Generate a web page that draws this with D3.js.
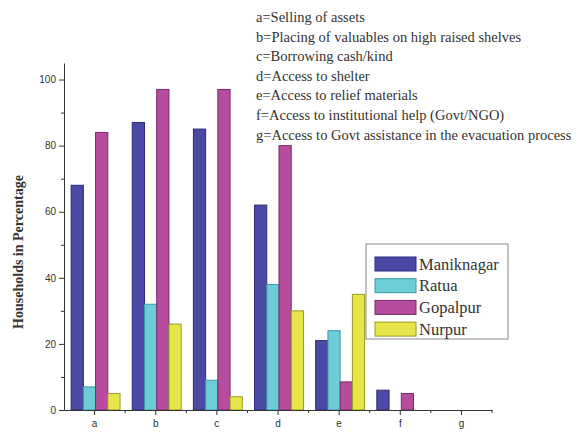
<!DOCTYPE html>
<html><head><meta charset="utf-8">
<script src="https://cdn.jsdelivr.net/npm/d3@7"></script>
<style>body{margin:0;background:#fff}svg{display:block}
.serif{font-family:"Liberation Serif","Times New Roman",serif}
.sans{font-family:"Liberation Sans",Arial,sans-serif}</style>
</head><body>
<svg id="chart" width="580" height="437"></svg>
<script>
const categories = ["a","b","c","d","e","f","g"];
const seriesNames = ["Maniknagar","Ratua","Gopalpur","Nurpur"];
const maniknagar = [68, 87, 85, 62, 21, 6, 0];
const ratua = [7, 32, 9, 38, 24, 0, 0];
const gopalpur = [84, 97, 97, 80, 8.5, 5, 0];
const nurpur = [5, 26, 4, 30, 35, 0, 0];
const yTicks = [0, 20, 40, 60, 80, 100];
const yMinorTicks = [10, 30, 50, 70, 90];
const notes = [
  "a=Selling of assets",
  "b=Placing of valuables on high raised shelves",
  "c=Borrowing cash/kind",
  "d=Access to shelter",
  "e=Access to relief materials",
  "f=Access to institutional help (Govt/NGO)",
  "g=Access to Govt assistance in the evacuation process"
];
const fills = ["#4a4aa4", "#6dcdd6", "#b64c9e", "#e6e64a"];
const strokes = ["#2a2a7a", "#3a9aa4", "#7a2a6a", "#9a9a20"];
const values = [maniknagar, ratua, gopalpur, nurpur];

const svg = d3.select("#chart");
const mLeft = 64, mRight = 492, mTop = 63, mBottom = 410;
const x = d3.scaleBand().domain(categories).range([mLeft, mRight]).paddingInner(0).paddingOuter(0);
const xs = d3.scaleBand().domain(seriesNames).range([1, x.bandwidth() + 1]).paddingOuter(0.5).paddingInner(0);
const y = d3.scaleLinear().domain([0, 105]).range([mBottom, mTop]);

const g = svg.append("g");
categories.forEach((c, i) => {
  seriesNames.forEach((s, j) => {
    const v = values[j][i];
    if (v <= 0) return;
    g.append("rect")
      .attr("x", x(c) + xs(s))
      .attr("y", y(v))
      .attr("width", xs.bandwidth())
      .attr("height", y(0) - y(v))
      .attr("fill", fills[j])
      .attr("stroke", strokes[j])
      .attr("stroke-width", 1);
  });
});

// Y axis
const yAxis = svg.append("g").attr("transform", `translate(${mLeft},0)`)
  .call(d3.axisLeft(y).tickValues(yTicks).tickSize(5).tickSizeOuter(0));
svg.append("g").attr("transform", `translate(${mLeft},0)`)
  .call(d3.axisLeft(y).tickValues(yMinorTicks).tickSize(3).tickFormat("").tickSizeOuter(0))
  .select(".domain").remove();
yAxis.selectAll("text").attr("class", "sans").attr("font-size", 10).attr("fill", "#333");

// X axis
const xAxis = svg.append("g").attr("transform", `translate(0,${mBottom})`)
  .call(d3.axisBottom(x).tickSize(5).tickSizeOuter(0));
xAxis.selectAll("text").attr("class", "sans").attr("font-size", 10).attr("fill", "#333").attr("dy", "0.9em");
xAxis.attr("font-family", null); yAxis.attr("font-family", null);
const minor = categories.slice(1).map(c => x(c)).concat([mRight]);
svg.append("g").selectAll("line").data(minor).join("line")
  .attr("x1", d => d).attr("x2", d => d).attr("y1", mBottom).attr("y2", mBottom + 3)
  .attr("stroke", "#333");
svg.selectAll(".domain, .tick line").attr("stroke", "#333");

// Y label
svg.append("text").attr("class", "serif")
  .attr("transform", "translate(23,252) rotate(-90)")
  .attr("text-anchor", "middle")
  .attr("font-weight", "bold").attr("font-size", 14).attr("fill", "#333")
  .text("Households in Percentage");

// Notes
svg.append("g").selectAll("text").data(notes).join("text").attr("class", "serif")
  .attr("x", 256).attr("y", (d, i) => 22 + i * 19.6)
  .attr("font-size", 14.5).attr("fill", "#333")
  .text(d => d);

// Legend
const lg = svg.append("g");
lg.append("rect").attr("x", 366).attr("y", 244).attr("width", 142).attr("height", 95)
  .attr("fill", "#fff").attr("stroke", "#888").attr("stroke-width", 1);
seriesNames.forEach((s, j) => {
  lg.append("rect").attr("x", 375).attr("y", 257 + j * 21.7).attr("width", 41).attr("height", 14)
    .attr("fill", fills[j]).attr("stroke", strokes[j]);
  lg.append("text").attr("class", "serif").attr("x", 419).attr("y", 269.5 + j * 21.7)
    .attr("font-size", 16.5).attr("fill", "#333").text(s);
});
</script>
</body></html>
